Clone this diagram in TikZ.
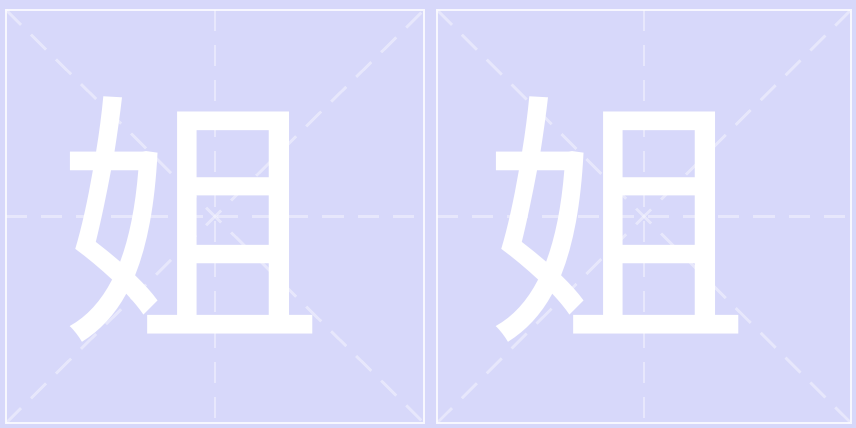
\documentclass[tikz,border=0pt]{standalone}
\usepackage{fontspec}
\usetikzlibrary{calc}
\newfontfamily\cjk{Noto Sans CJK SC}
\definecolor{lavender}{HTML}{D7D8FA}
\tikzset{
	% ------- custom
	cell border/.style={
		draw=white,
		opacity=0.8,
		line width=0.8pt,
	},
	guide/.style={
		white,
		opacity=0.4,
		line width=0.8pt,
		dash pattern=on 6pt off 4pt,
	},
	glyph/.style={
		text=white,
		inner sep=0pt,
		font=\cjk\fontsize{76}{76}\selectfont,
	},
}

\begin{document}
\begin{tikzpicture}[x=0.01cm, y=-0.01cm]

% background %{{{2

	\fill[lavender] (0,0) rectangle (856,428);
	\useasboundingbox (0,0) rectangle (856,428);

% coordinates %{{{2

	\coordinate (A1) at (6,10);
	\coordinate (A2) at (424,423);
	\coordinate (Am) at ($ (A1)!0.5!(A2) $);

	\coordinate (B1) at (437,10);
	\coordinate (B2) at (851,423);
	\coordinate (Bm) at ($ (B1)!0.5!(B2) $);

% guide lines %{{{2

	\draw[guide] (A1 |- Am) -- (A2 |- Am);
	\draw[guide] (Am |- A1) -- (Am |- A2);
	\draw[guide] (A1) -- (A2);
	\draw[guide] (A1 |- A2) -- (A2 |- A1);

	\draw[guide] (B1 |- Bm) -- (B2 |- Bm);
	\draw[guide] (Bm |- B1) -- (Bm |- B2);
	\draw[guide] (B1) -- (B2);
	\draw[guide] (B1 |- B2) -- (B2 |- B1);

% cell borders %{{{2

	\draw[cell border] (A1) rectangle (A2);
	\draw[cell border] (B1) rectangle (B2);

% characters %{{{2

	\node[glyph] (left char) at (190,220) {姐};
	\node[glyph] (right char) at (616,220) {姐};

\end{tikzpicture}
\end{document}
